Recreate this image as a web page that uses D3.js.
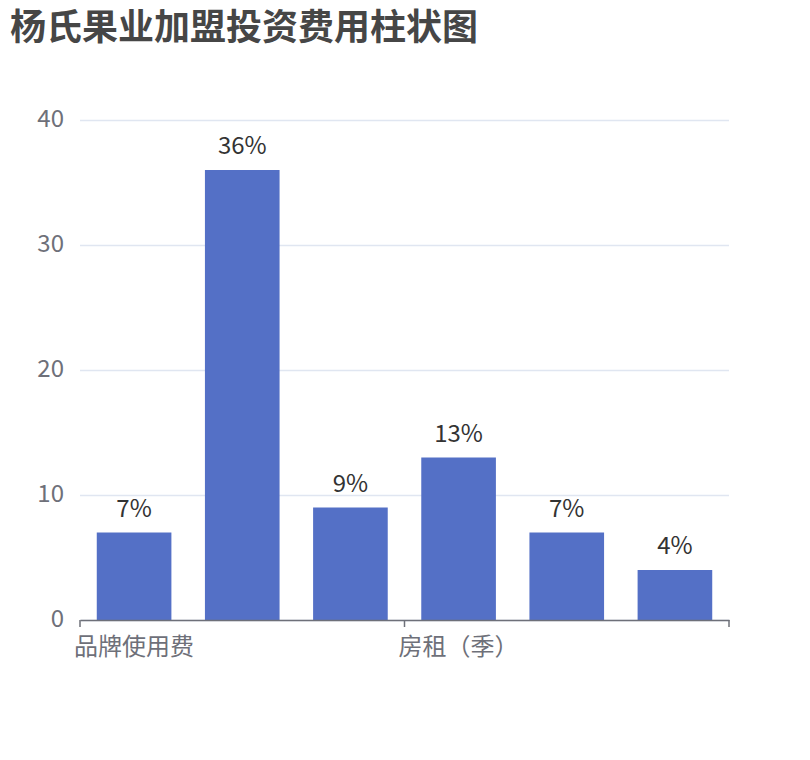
<!DOCTYPE html>
<html>
<head>
<meta charset="utf-8">
<script src="https://cdn.jsdelivr.net/npm/d3@7/dist/d3.min.js"></script>
<style>
  body { margin: 0; background: #fff; }
  text { font-family: "Noto Sans CJK SC", "Noto Sans", sans-serif; }
</style>
</head>
<body>
<div id="chart"></div>
<script>
// 数据
const title = '杨氏果业加盟投资费用柱状图';
const categories = ['品牌使用费', '装修费', '设备费', '房租（季）', '首批进货', '其他'];
const values = [7, 36, 9, 13, 7, 4];
const yTicks = [0, 10, 20, 30, 40];
const labelInterval = 3; // 只显示每第3个类目名

// 尺寸
const width = 810;
const height = 760;
const paddingLeft = 80;
const paddingRight = 81;
const paddingTop = 120;
const paddingBottom = 140;
const plotW = width - paddingLeft - paddingRight;
const plotH = height - paddingTop - paddingBottom;
const barColor = '#5470c6';
const axisColor = '#6e7079';

const svg = d3.select('#chart').append('svg')
  .attr('width', width)
  .attr('height', height);

// 标题
svg.append('text')
  .attr('x', 10)
  .attr('y', 40)
  .attr('fill', '#464646')
  .attr('font-size', 36)
  .attr('font-weight', 'bold')
  .text(title);

// 比例尺
const xScale = d3.scaleBand()
  .domain(categories)
  .range([0, plotW]);
const yScale = d3.scaleLinear()
  .domain([0, 40])
  .range([plotH, 0]);

const g = svg.append('g')
  .attr('transform', `translate(${paddingLeft},${paddingTop})`);

// y轴 + 网格线
const yAxis = g.append('g')
  .call(d3.axisLeft(yScale).tickValues(yTicks).tickSize(-plotW).tickPadding(16));
yAxis.select('.domain').remove();
yAxis.selectAll('.tick line').attr('stroke', '#e0e6f1').attr('stroke-width', 1.5);
yAxis.selectAll('.tick text')
  .attr('fill', axisColor)
  .attr('font-size', 24)
  .attr('x', -16)
  .attr('dy', '0.28em');

// 柱子
const barW = xScale.bandwidth() * 0.69;
g.selectAll('.bar')
  .data(values)
  .enter()
  .append('rect')
  .attr('class', 'bar')
  .attr('x', (d, i) => xScale(categories[i]) + (xScale.bandwidth() - barW) / 2)
  .attr('y', (d) => yScale(d))
  .attr('width', barW)
  .attr('height', (d) => plotH - yScale(d))
  .attr('fill', barColor);

// 数值标签
g.selectAll('.valueDes')
  .data(values)
  .enter()
  .append('text')
  .attr('class', 'valueDes')
  .attr('x', (d, i) => xScale(categories[i]) + xScale.bandwidth() / 2)
  .attr('y', (d) => yScale(d) - 16)
  .attr('text-anchor', 'middle')
  .attr('fill', '#333')
  .attr('font-size', 24)
  .text((d) => d + '%');

// x轴
const xAxis = g.append('g')
  .attr('transform', `translate(0,${plotH})`)
  .call(d3.axisBottom(xScale)
    .tickSize(0)
    .tickSizeOuter(0)
    .tickFormat((d, i) => (i % labelInterval === 0 ? d : '')));
xAxis.select('.domain').attr('stroke', axisColor).attr('stroke-width', 1.5);
xAxis.selectAll('.tick text')
  .attr('fill', axisColor)
  .attr('font-size', 24)
  .attr('dy', 0)
  .attr('y', 35);

// x轴刻度（类目边界）
const tickPos = categories
  .filter((d, i) => i % labelInterval === 0)
  .map((d) => xScale(d))
  .concat([plotW]);
xAxis.selectAll('.boundTick')
  .data(tickPos)
  .enter()
  .append('line')
  .attr('class', 'boundTick')
  .attr('x1', (d) => d)
  .attr('x2', (d) => d)
  .attr('y1', 0)
  .attr('y2', 7)
  .attr('stroke', axisColor)
  .attr('stroke-width', 1.5);
</script>
</body>
</html>
